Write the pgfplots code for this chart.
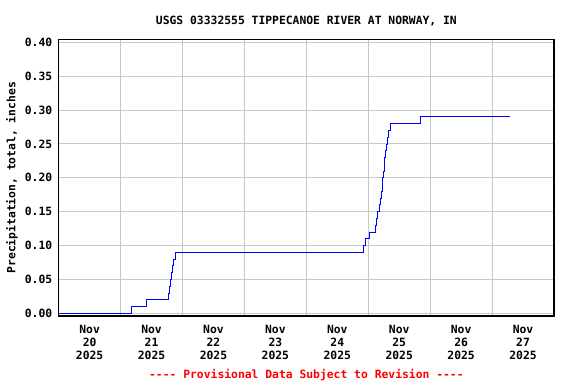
\documentclass[border=0pt]{standalone}
\usepackage{pgfplots}
\pgfplotsset{compat=1.18}
\usepackage{fontspec}
\setmainfont{DejaVu Sans Mono}[Ligatures=TeXOff]
\definecolor{gridgray}{RGB}{200,200,200}
\newcommand{\uf}{\fontsize{11.4}{13}\selectfont\bfseries}
\begin{document}
\begin{tikzpicture}
\path (-58.7bp,-68bp) rectangle (517.3bp,316bp);
\begin{axis}[
  scale only axis,
  width=495.3bp, height=276.7bp,
  at={(0,0)}, anchor=south west,
  xmin=0, xmax=8,
  ymin=-0.0041, ymax=0.4045,
  axis line style={black, line width=1.2pt},
  major tick length=0pt, minor tick length=0pt,
  xtick={0.5,1.5,...,7.5},
  xticklabels={{Nov\\20\\2025},{Nov\\21\\2025},{Nov\\22\\2025},{Nov\\23\\2025},{Nov\\24\\2025},{Nov\\25\\2025},{Nov\\26\\2025},{Nov\\27\\2025}},
  minor xtick={1,2,...,7},
  xminorgrids=true, xmajorgrids=false,
  ytick={0,0.05,...,0.41},
  yticklabels={0.00,0.05,0.10,0.15,0.20,0.25,0.30,0.35,0.40},
  ymajorgrids=true,
  grid style={gridgray, line width=0.9pt},
  minor grid style={gridgray, line width=0.9pt},
  xticklabel style={font=\uf, align=center, anchor=north, yshift=-6bp},
  yticklabel style={font=\uf, anchor=east, xshift=-3bp},
]
\addplot[blue, line width=0.8pt, const plot] coordinates {
(0,0) (1.178,0.01) (1.41,0.02) (1.771,0.03) (1.79,0.04) (1.80,0.05)
(1.815,0.06) (1.83,0.07) (1.85,0.08) (1.89,0.09)
(4.921,0.10) (4.948,0.11) (5.018,0.12) (5.121,0.13) (5.137,0.14)
(5.155,0.15) (5.175,0.16) (5.196,0.17) (5.212,0.18) (5.222,0.19)
(5.228,0.20) (5.248,0.21) (5.258,0.22) (5.268,0.23) (5.278,0.24)
(5.30,0.25) (5.315,0.26) (5.33,0.27) (5.36,0.28)
(5.845,0.29) (7.29,0.29)
};
\end{axis}
\node[font=\uf] at (247.7bp,295bp) {USGS 03332555 TIPPECANOE RIVER AT NORWAY, IN};
\node[font=\uf, rotate=90] at (-46.7bp,138.3bp) {Precipitation, total, inches};
\node[font=\uf, text=red] at (247.7bp,-59bp) {---- Provisional Data Subject to Revision ----};
\end{tikzpicture}
\end{document}
